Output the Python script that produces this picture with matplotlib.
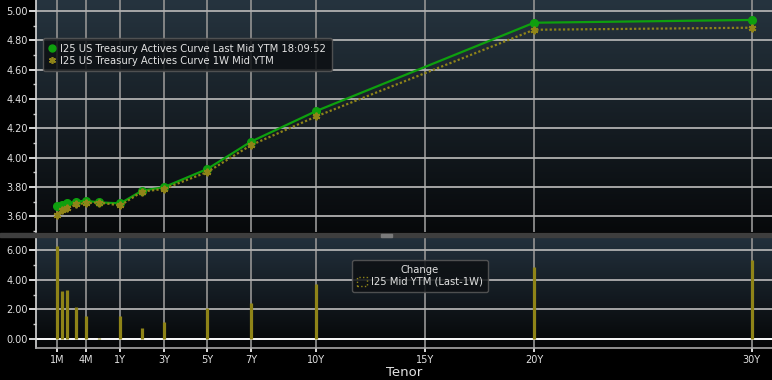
import numpy as np
import matplotlib
matplotlib.use("Agg")
import matplotlib.pyplot as plt
from matplotlib.colors import to_rgb
from matplotlib.lines import Line2D
from matplotlib.patches import Patch, Rectangle
from matplotlib.ticker import MultipleLocator, FixedLocator, FormatStrFormatter

# tenors in years: 1M, 6W, 2M, 3M, 4M, 6M, 1Y, 2Y, 3Y, 5Y, 7Y, 10Y, 20Y, 30Y
tenors = [1/12, 1.5/12, 2/12, 3/12, 4/12, 6/12, 1, 2, 3, 5, 7, 10, 20, 30]
last_ytm = [3.672, 3.677, 3.688, 3.700, 3.706, 3.695, 3.688, 3.775, 3.798, 3.923, 4.109, 4.318, 4.920, 4.939]
week_ytm = [3.612, 3.646, 3.655, 3.682, 3.690, 3.694, 3.674, 3.768, 3.787, 3.902, 4.085, 4.281, 4.872, 4.886]
change_bp = [6.27, 3.24, 3.30, 2.16, 1.57, 0.07, 1.55, 0.74, 1.15, 2.09, 2.43, 3.71, 4.83, 5.33]

tick_years = [1/12, 4/12, 1, 3, 5, 7, 10, 15, 20, 30]
tick_labels = ["1M", "4M", "1Y", "3Y", "5Y", "7Y", "10Y", "15Y", "20Y", "30Y"]

# bloomberg style stretched tenor axis (short end widened)
knot_years = [-1.0, 1/12, 4/12, 0.5, 1.0, 40.0]
knot_pos = [-67.1, 57.3, 85.7, 99.3, 120.3, 969.4]


def fwd(x):
    return np.interp(x, knot_years, knot_pos)


def inv(p):
    return np.interp(p, knot_pos, knot_years)


green = "#0ea00e"
olive = "#8f8418"
txt = "#e2e2e2"
star = (6, 2, 0)  # asterisk marker


def gradient(ax, top, bottom):
    c = np.linspace(0, 1, 256)[:, None, None]
    img = np.array(to_rgb(top)) * (1 - c) + np.array(to_rgb(bottom)) * c
    ax.imshow(img, extent=[0, 1, 0, 1], transform=ax.transAxes,
              aspect="auto", zorder=-5, interpolation="bilinear")


def style(ax):
    ax.set_xscale("function", functions=(fwd, inv))
    ax.set_facecolor("black")
    for s in ["top", "right"]:
        ax.spines[s].set_visible(False)
    ax.spines["left"].set_color("#d8d8d8")
    ax.spines["left"].set_linewidth(1.2)
    ax.set_axisbelow(True)
    ax.xaxis.grid(True, color="#8c8c8c", lw=1.3)
    ax.yaxis.grid(True, color="#b0b0b0", lw=1.3)
    ax.tick_params(axis="y", which="major", length=5, width=1.2, colors="white",
                   labelcolor=txt, labelsize=7, pad=1)
    ax.tick_params(axis="y", which="minor", length=2.5, width=1, colors="#cccccc")
    ax.yaxis.set_major_formatter(FormatStrFormatter("%.2f"))


fig = plt.figure(figsize=(7.72, 3.80), dpi=100, facecolor="black")
ax1 = fig.add_axes([36/772, 148/380, 736/772, 232/380])
ax2 = fig.add_axes([36/772, 32/380, 736/772, 111/380], sharex=ax1)

# top panel: curves
style(ax1)
gradient(ax1, "#26343f", "#07090b")
ax1.plot(tenors, last_ytm, color=green, lw=1.6, marker="o", ms=5.5, zorder=3)
ax1.plot(tenors, week_ytm, color=olive, lw=1.6, ls=(0, (1, 1)), marker=star,
         ms=5.5, mew=1.4, zorder=4)
ax1.spines["bottom"].set_visible(False)
ax1.tick_params(axis="x", which="both", bottom=False, labelbottom=False)
ax1.yaxis.set_major_locator(MultipleLocator(0.2))
ax1.yaxis.set_minor_locator(MultipleLocator(0.1))
ax1.set_ylim(3.493, 5.075)

h1 = [Line2D([], [], ls="none", marker="o", color=green, ms=5),
      Line2D([], [], ls="none", marker=star, color=olive, ms=5, mew=1.2)]
l1 = ["I25 US Treasury Actives Curve Last Mid YTM 18:09:52",
      "I25 US Treasury Actives Curve 1W Mid YTM"]
leg = ax1.legend(h1, l1, loc="upper left", bbox_to_anchor=(0.0095, 0.836),
                 borderaxespad=0, fontsize=7.2, labelcolor=txt, handlelength=0.7,
                 handletextpad=0.5, borderpad=0.55, labelspacing=0.2, fancybox=True)
fr = leg.get_frame()
fr.set_facecolor("#0d1013")
fr.set_alpha(0.85)
fr.set_edgecolor("#5a5a5a")

# bottom panel: change bars
style(ax2)
gradient(ax2, "#23313d", "#050607")
ax2.vlines(tenors, 0, change_bp, colors=olive, lw=2.3, zorder=3)
ax2.axhline(0, color="white", lw=1.3, zorder=2)
ax2.spines["bottom"].set_color("#a8a8a8")
ax2.spines["bottom"].set_linewidth(1.2)
ax2.yaxis.set_major_locator(MultipleLocator(2))
ax2.yaxis.set_minor_locator(MultipleLocator(1))
ax2.set_ylim(-0.61, 6.88)
ax2.xaxis.set_major_locator(FixedLocator(tick_years))
ax2.set_xticklabels(tick_labels)
ax2.xaxis.set_minor_locator(FixedLocator([]))
ax2.tick_params(axis="x", length=3, width=1.2, colors="white", labelcolor=txt,
                labelsize=7, pad=2)
ax2.set_xlabel("Tenor", fontsize=9.5, color=txt, labelpad=1)
ax2.set_xlim(-0.102, 30.93)

h2 = [Patch(facecolor="none", edgecolor=olive, linestyle=":", lw=1)]
leg2 = ax2.legend(h2, ["I25 Mid YTM (Last-1W)"], title="Change", loc="upper left",
                  bbox_to_anchor=(0.429, 0.793), borderaxespad=0, fontsize=7.2,
                  title_fontsize=7.2, labelcolor=txt, handlelength=1.0, handleheight=1.0,
                  handletextpad=0.4, borderpad=0.5, labelspacing=0.2, fancybox=True)
leg2.get_title().set_color(txt)
fr2 = leg2.get_frame()
fr2.set_facecolor("#0d1013")
fr2.set_alpha(0.85)
fr2.set_edgecolor("#5a5a5a")

# splitter bar between panels
fig.patches.append(Rectangle((0, 143/380), 1, 4.5/380, transform=fig.transFigure,
                             color="#3e3e3e", zorder=10))
fig.patches.append(Rectangle((381/772, 143.5/380), 11/772, 2.5/380,
                             transform=fig.transFigure, color="#7a7a7a", zorder=11))

fig.savefig("out.png", dpi=100, facecolor="black")
